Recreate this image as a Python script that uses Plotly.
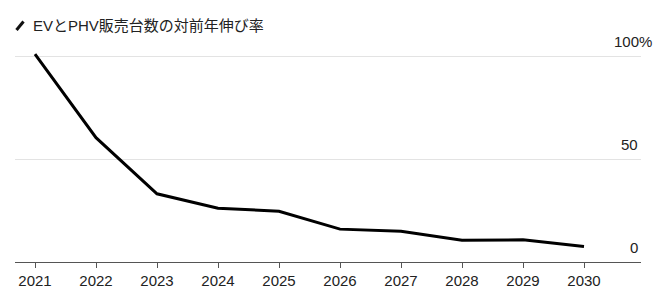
import plotly.graph_objects as go

years = [2021, 2022, 2023, 2024, 2025, 2026, 2027, 2028, 2029, 2030]
growth = [101.2, 60.5, 33.2, 26.2, 24.7, 16.0, 15.0, 10.6, 10.8, 7.6]
y_labels = ["0", "50", "100%"]
y_label_values = [0, 50, 100]
title_text = "EVとPHV販売台数の対前年伸び率"

FONT = "Liberation Sans, Noto Sans CJK JP, sans-serif"
L, R, T, B = 15, 29, 36, 38
W, H = 670, 300
pw = W - L - R
ph = H - T - B

fig = go.Figure()
fig.add_trace(go.Scatter(
    x=years, y=growth, mode="lines",
    line=dict(color="#000000", width=3),
    hoverinfo="skip", showlegend=False,
))

def px_to_paper(px):
    return (px - L) / pw

def py_to_paper(py):
    return (H - B - py) / ph

annotations = []
for v, t in zip(y_label_values, y_labels):
    right_px = 654 if t.endswith("%") else 640
    annotations.append(dict(
        x=px_to_paper(right_px), xref="paper", y=v, yref="y",
        text=t, showarrow=False, xanchor="right", yanchor="middle",
        yshift=15, font=dict(family=FONT, size=15, color="#222222"),
    ))
annotations.append(dict(
    x=px_to_paper(31), xref="paper", y=py_to_paper(25), yref="paper",
    text=title_text, showarrow=False, xanchor="left", yanchor="middle",
    font=dict(family=FONT, size=15, color="#222222"),
))

fig.update_layout(
    width=W, height=H,
    margin=dict(l=L, r=R, t=T, b=B),
    paper_bgcolor="white", plot_bgcolor="white",
    annotations=annotations,
    shapes=[dict(
        type="line", xref="paper", yref="paper",
        x0=px_to_paper(16.5), x1=px_to_paper(23.5),
        y0=py_to_paper(30), y1=py_to_paper(21.5),
        line=dict(color="#111111", width=3),
    )],
    xaxis=dict(
        range=[2021 - 20 / 61, 2021 + 606 / 61],
        tickmode="array", tickvals=years, ticktext=[str(y) for y in years],
        showgrid=False, zeroline=False,
        showline=True, linecolor="#555555", linewidth=1.3,
        ticks="outside", ticklen=5, tickwidth=1.3, tickcolor="#555555",
        tickfont=dict(family=FONT, size=15, color="#222222"),
        fixedrange=True,
    ),
    yaxis=dict(
        range=[0, 110],
        tickmode="array", tickvals=[50, 100], showticklabels=False,
        showgrid=True, gridcolor="#e3e3e3", gridwidth=1,
        zeroline=False, showline=False, fixedrange=True,
    ),
)

fig.write_html("out.html")
